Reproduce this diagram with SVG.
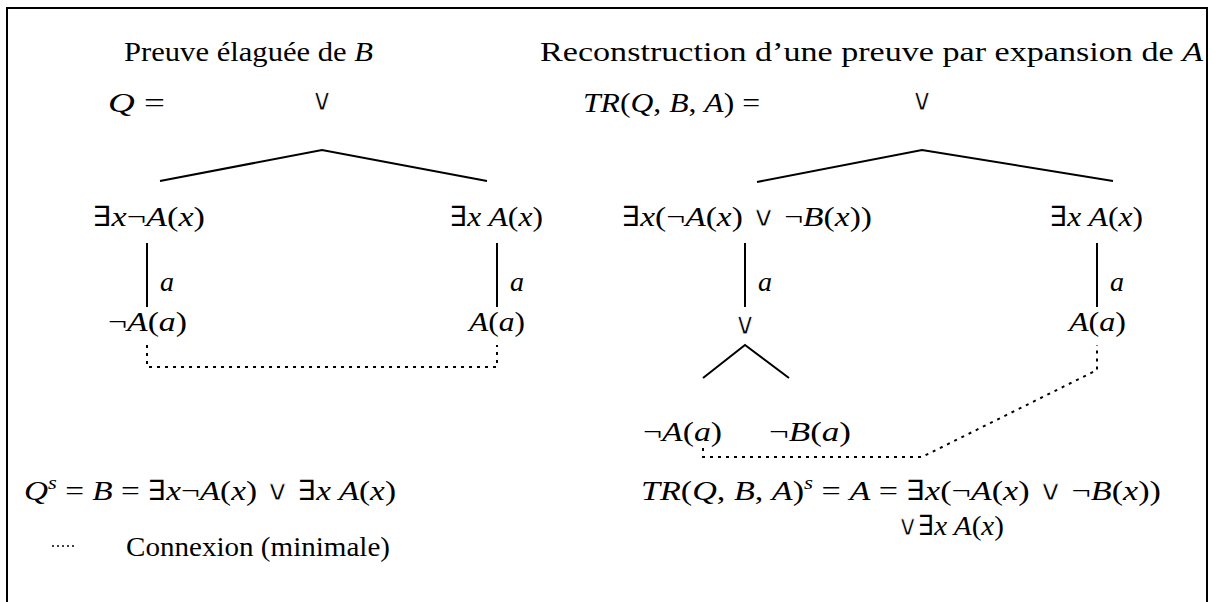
<svg xmlns="http://www.w3.org/2000/svg" width="1214" height="602" viewBox="0 0 1214 602">
<style>
  .t { font-family: "Liberation Serif", "DejaVu Serif", serif; font-size: 28px; fill: #000; }
  .i { font-style: italic; }
  .v { font-family: "DejaVu Sans", sans-serif; stroke: #fff; stroke-width: 0.8px; }
  .or { font-family: "DejaVu Sans", "Liberation Sans", sans-serif; font-size: 30px; fill: #000; text-anchor: middle; stroke: #fff; stroke-width: 0.8px; }
  .edge { stroke: #000; stroke-width: 2; fill: none; }
  .dot { stroke: #000; stroke-width: 2; fill: none; stroke-dasharray: 3 5; }
  .ldot { stroke: #000; stroke-width: 1.6; fill: none; stroke-dasharray: 2 3; }
  .frame { stroke: #000; stroke-width: 2; fill: none; }
</style>
<rect width="1214" height="602" fill="#fff"/>
<path class="frame" d="M7,602 V8 H1207 V602"/>

<g id="titles">
  <text class="t" x="124" y="61" textLength="249" lengthAdjust="spacingAndGlyphs">Preuve élaguée de <tspan class="i">B</tspan></text>
  <text class="t" x="540" y="61" textLength="663" lengthAdjust="spacingAndGlyphs">Reconstruction d’une preuve par expansion de <tspan class="i">A</tspan></text>
</g>

<g id="left-tree">
  <g id="L-root">
    <text class="t" x="108" y="112" textLength="57" lengthAdjust="spacingAndGlyphs"><tspan class="i">Q</tspan> =</text>
    <text class="or" x="322" y="110">∨</text>
  </g>
  <g id="L-n1"><text class="t" x="93" y="226" textLength="112" lengthAdjust="spacingAndGlyphs">∃<tspan class="i">x</tspan>¬<tspan class="i">A</tspan>(<tspan class="i">x</tspan>)</text></g>
  <g id="L-n2"><text class="t" x="450" y="226" textLength="93" lengthAdjust="spacingAndGlyphs">∃<tspan class="i">x A</tspan>(<tspan class="i">x</tspan>)</text></g>
  <g id="L-n3"><text class="t" x="108" y="331" textLength="79" lengthAdjust="spacingAndGlyphs">¬<tspan class="i">A</tspan>(<tspan class="i">a</tspan>)</text></g>
  <g id="L-n4"><text class="t" x="469" y="331" textLength="56" lengthAdjust="spacingAndGlyphs"><tspan class="i">A</tspan>(<tspan class="i">a</tspan>)</text></g>
</g>

<g id="right-tree">
  <g id="R-root">
    <text class="t" x="583" y="112" textLength="177" lengthAdjust="spacingAndGlyphs"><tspan class="i">TR</tspan>(<tspan class="i">Q</tspan>, <tspan class="i">B</tspan>, <tspan class="i">A</tspan>) =</text>
    <text class="or" x="922" y="110">∨</text>
  </g>
  <g id="R-n1"><text class="t" x="622" y="226" textLength="250" lengthAdjust="spacingAndGlyphs">∃<tspan class="i">x</tspan>(¬<tspan class="i">A</tspan>(<tspan class="i">x</tspan>) <tspan class="v">∨</tspan> ¬<tspan class="i">B</tspan>(<tspan class="i">x</tspan>))</text></g>
  <g id="R-n2"><text class="t" x="1050" y="226" textLength="93" lengthAdjust="spacingAndGlyphs">∃<tspan class="i">x A</tspan>(<tspan class="i">x</tspan>)</text></g>
  <g id="R-n3"><text class="or" x="745" y="334">∨</text></g>
  <g id="R-n4"><text class="t" x="1069" y="331" textLength="57" lengthAdjust="spacingAndGlyphs"><tspan class="i">A</tspan>(<tspan class="i">a</tspan>)</text></g>
  <g id="R-n5"><text class="t" x="643" y="441" textLength="79" lengthAdjust="spacingAndGlyphs">¬<tspan class="i">A</tspan>(<tspan class="i">a</tspan>)</text></g>
  <g id="R-n6"><text class="t" x="769" y="441" textLength="82" lengthAdjust="spacingAndGlyphs">¬<tspan class="i">B</tspan>(<tspan class="i">a</tspan>)</text></g>
</g>

<g id="connectors">
  <path class="edge" d="M160,181 L322,150 L487,181"/>
  <path class="edge" d="M757,182 L922,150 L1113,181"/>
  <path class="edge" d="M147,243 V307"/>
  <path class="edge" d="M497,243 V307"/>
  <path class="edge" d="M745,243 V307"/>
  <path class="edge" d="M1097,243 V307"/>
  <path class="edge" d="M703,378 L745,345 L789,378"/>
  <path class="dot" d="M147,345 V367 H497 V345"/>
  <path class="dot" d="M703,448 V457 H922 L1097,370 V345"/>
  <text class="t i" x="160" y="291">a</text>
  <text class="t i" x="510" y="291">a</text>
  <text class="t i" x="758" y="291">a</text>
  <text class="t i" x="1110" y="291">a</text>
</g>

<g id="formulas">
  <text class="t" x="24" y="500" textLength="372" lengthAdjust="spacingAndGlyphs"><tspan class="i">Q</tspan><tspan class="i" font-size="19" dy="-11">s</tspan><tspan dy="11"> = </tspan><tspan class="i">B</tspan> = ∃<tspan class="i">x</tspan>¬<tspan class="i">A</tspan>(<tspan class="i">x</tspan>) <tspan class="v">∨</tspan> ∃<tspan class="i">x A</tspan>(<tspan class="i">x</tspan>)</text>
  <text class="t" x="641" y="500" textLength="520" lengthAdjust="spacingAndGlyphs"><tspan class="i">TR</tspan>(<tspan class="i">Q</tspan>, <tspan class="i">B</tspan>, <tspan class="i">A</tspan>)<tspan class="i" font-size="19" dy="-11">s</tspan><tspan dy="11"> = </tspan><tspan class="i">A</tspan> = ∃<tspan class="i">x</tspan>(¬<tspan class="i">A</tspan>(<tspan class="i">x</tspan>) <tspan class="v">∨</tspan> ¬<tspan class="i">B</tspan>(<tspan class="i">x</tspan>))</text>
  <text class="t" x="897" y="535" textLength="107" lengthAdjust="spacingAndGlyphs"><tspan class="v">∨</tspan>∃<tspan class="i">x A</tspan>(<tspan class="i">x</tspan>)</text>
</g>

<g id="legend">
  <path class="ldot" d="M52,546 H76"/>
  <text class="t" x="126" y="556" textLength="264" lengthAdjust="spacingAndGlyphs">Connexion (minimale)</text>
</g>
</svg>
